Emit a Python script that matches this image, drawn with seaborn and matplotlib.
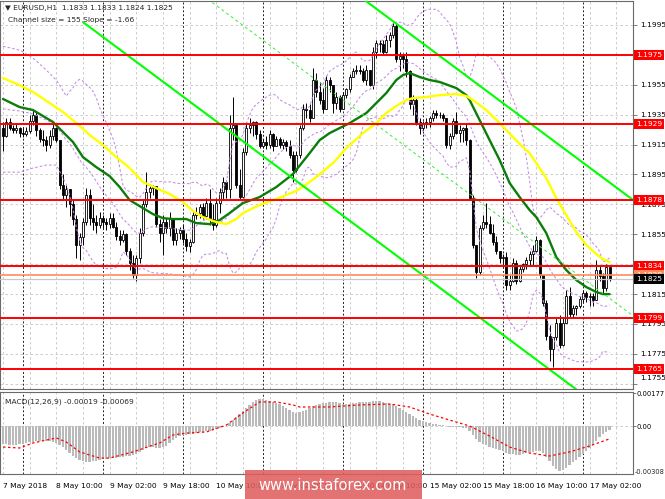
import numpy as np
import pandas as pd
import matplotlib
matplotlib.use("Agg")
import matplotlib.pyplot as plt
from matplotlib.patches import Rectangle
import matplotlib.transforms as mtransforms
import seaborn as sns

sns.set_style("white")
plt.rcParams['font.family'] = ['DejaVu Sans']

# ---------------- data (EURUSD H1) ----------------
first_open = 1.1926
close = [1.1921,1.1930,1.1926,1.1925,1.1926,1.1923,1.1922,1.1924,1.1931,1.1935,
         1.1925,1.1919,1.1918,1.1915,1.1921,1.1926,1.1918,1.1888,1.1881,1.1885,
         1.1875,1.1865,1.1848,1.1853,1.1863,1.1881,1.1866,1.1863,1.1861,1.1866,
         1.1863,1.1862,1.1866,1.1860,1.1854,1.1851,1.1855,1.1844,1.1836,1.1828,
         1.1839,1.1856,1.1875,1.1883,1.1886,1.1887,1.1862,1.1856,1.1863,1.1859,
         1.1866,1.1851,1.1856,1.1858,1.1852,1.1847,1.1850,1.1868,1.1869,1.1873,
         1.1867,1.1876,1.1865,1.1861,1.1876,1.1883,1.1890,1.1885,1.1926,1.1928,
         1.1888,1.1880,1.1910,1.1926,1.1928,1.1930,1.1922,1.1914,1.1917,1.1915,
         1.1922,1.1914,1.1919,1.1915,1.1917,1.1914,1.1908,1.1898,1.1908,1.1926,
         1.1939,1.1938,1.1933,1.1958,1.1950,1.1945,1.1939,1.1958,1.1955,1.1943,
         1.1947,1.1939,1.1948,1.1952,1.1960,1.1964,1.1965,1.1964,1.1958,1.1965,
         1.1955,1.1977,1.1983,1.1982,1.1977,1.1985,1.1988,1.1994,1.1972,1.1974,
         1.1972,1.1964,1.1942,1.1945,1.1930,1.1926,1.1929,1.1930,1.1933,1.1936,
         1.1935,1.1935,1.1933,1.1915,1.1921,1.1931,1.1923,1.1925,1.1926,1.1918,
         1.1879,1.1848,1.1830,1.1859,1.1863,1.1862,1.1856,1.1850,1.1844,1.1839,
         1.1840,1.1821,1.1824,1.1836,1.1824,1.1832,1.1835,1.1838,1.1842,1.1844,
         1.1851,1.1828,1.1809,1.1787,1.1778,1.1786,1.1796,1.1781,1.1796,1.1814,
         1.1802,1.1806,1.1807,1.1812,1.1816,1.1813,1.1814,1.1811,1.1831,1.1827,
         1.1819,1.1833,1.1825]
high = [1.1930,1.1933,1.1933,1.1928,1.1929,1.1927,1.1926,1.1927,1.1935,1.1938,
        1.1937,1.1926,1.1925,1.1921,1.1925,1.1929,1.1927,1.1918,1.1895,1.1888,
        1.1883,1.1878,1.1868,1.1856,1.1866,1.1886,1.1885,1.1875,1.1868,1.1870,
        1.1868,1.1866,1.1869,1.1869,1.1863,1.1858,1.1858,1.1856,1.1846,1.1841,
        1.1841,1.1859,1.1878,1.1897,1.1887,1.1888,1.1887,1.1865,1.1868,1.1866,
        1.1870,1.1866,1.1859,1.1860,1.1861,1.1856,1.1852,1.1871,1.1873,1.1875,
        1.1876,1.1879,1.1885,1.1875,1.1879,1.1886,1.1893,1.1891,1.1935,1.1947,
        1.1928,1.1899,1.1913,1.1930,1.1933,1.1931,1.1931,1.1925,1.1919,1.1921,
        1.1925,1.1923,1.1921,1.1920,1.1919,1.1918,1.1918,1.1911,1.1911,1.1928,
        1.1942,1.1943,1.1942,1.1966,1.1963,1.1957,1.1953,1.1961,1.1960,1.1955,
        1.1950,1.1948,1.1950,1.1953,1.1962,1.1966,1.1968,1.1968,1.1966,1.1968,
        1.1965,1.1980,1.1985,1.1985,1.1985,1.1988,1.1990,1.1996,1.1996,1.1977,
        1.1976,1.1977,1.1965,1.1948,1.1946,1.1933,1.1931,1.1933,1.1934,1.1938,
        1.1938,1.1937,1.1936,1.1933,1.1923,1.1933,1.1937,1.1928,1.1927,1.1929,
        1.1919,1.1881,1.1848,1.1861,1.1868,1.1876,1.1867,1.1862,1.1854,1.1844,
        1.1842,1.1843,1.1828,1.1839,1.1838,1.1834,1.1836,1.1840,1.1844,1.1848,
        1.1854,1.1852,1.1828,1.1811,1.1794,1.1786,1.1799,1.1801,1.1799,1.1818,
        1.1820,1.1808,1.1808,1.1814,1.1818,1.1817,1.1816,1.1816,1.1838,1.1834,
        1.1829,1.1835,1.1833]
low = [1.1911,1.1920,1.1925,1.1923,1.1923,1.1920,1.1920,1.1921,1.1923,1.1928,
       1.1921,1.1917,1.1914,1.1911,1.1913,1.1918,1.1917,1.1885,1.1878,1.1873,
       1.1867,1.1861,1.1839,1.1838,1.1848,1.1861,1.1861,1.1858,1.1856,1.1859,
       1.1859,1.1858,1.1859,1.1859,1.1851,1.1848,1.1850,1.1841,1.1831,1.1826,
       1.1824,1.1836,1.1854,1.1873,1.1879,1.1881,1.1860,1.1850,1.1841,1.1856,
       1.1854,1.1848,1.1848,1.1852,1.1849,1.1844,1.1843,1.1849,1.1865,1.1866,
       1.1865,1.1865,1.1861,1.1858,1.1860,1.1869,1.1878,1.1879,1.1879,1.1918,
       1.1886,1.1878,1.1879,1.1908,1.1923,1.1921,1.1919,1.1913,1.1913,1.1912,
       1.1913,1.1911,1.1914,1.1913,1.1912,1.1911,1.1906,1.1890,1.1897,1.1906,
       1.1925,1.1933,1.1930,1.1933,1.1947,1.1942,1.1936,1.1939,1.1950,1.1936,
       1.1939,1.1937,1.1939,1.1946,1.1950,1.1960,1.1962,1.1962,1.1957,1.1955,
       1.1954,1.1952,1.1973,1.1977,1.1975,1.1976,1.1980,1.1986,1.1970,1.1964,
       1.1966,1.1960,1.1939,1.1935,1.1928,1.1922,1.1923,1.1926,1.1927,1.1931,
       1.1933,1.1933,1.1931,1.1913,1.1912,1.1919,1.1922,1.1917,1.1917,1.1915,
       1.1878,1.1846,1.1826,1.1828,1.1858,1.1859,1.1855,1.1848,1.1842,1.1836,
       1.1836,1.1818,1.1818,1.1823,1.1822,1.1823,1.1830,1.1832,1.1834,1.1834,
       1.1843,1.1826,1.1807,1.1784,1.1770,1.1766,1.1784,1.1779,1.1780,1.1796,
       1.1800,1.1799,1.1801,1.1806,1.1810,1.1810,1.1807,1.1807,1.1811,1.1824,
       1.1816,1.1817,1.1824]

# moving averages (read at sample bars)
green_idx = [0,5,9,15,18,21,24,28,32,35,38,42,45,48,51,55,58,62,65,68,72,77,82,87,92,95,
             98,104,109,112,115,118,120,122,125,128,131,136,139,140,143,146,149,152,155,
             158,160,163,166,169,172,175,178,180,182]
green_val = [1.19455,1.19401,1.19381,1.19301,1.19234,1.19167,1.19066,1.18999,1.18939,1.18866,
             1.18779,1.18725,1.18685,1.18658,1.18652,1.18652,1.18625,1.18618,1.18645,1.18692,
             1.18759,1.18799,1.18866,1.18953,1.19093,1.19180,1.19227,1.19294,1.19361,1.19428,
             1.19495,1.19582,1.19615,1.19629,1.19602,1.19582,1.19569,1.19528,1.19481,1.19448,
             1.19314,1.19180,1.19047,1.18893,1.18799,1.18712,1.18665,1.18558,1.18397,1.18311,
             1.18244,1.18197,1.18164,1.18150,1.18150]
yellow_idx = [0,5,9,14,18,22,26,30,34,38,42,46,50,54,57,60,64,67,70,72,77,82,88,92,94,99,
              103,108,112,115,118,121,123,127,131,136,139,141,145,149,153,156,158,163,166,
              169,172,175,178,180,182]
yellow_val = [1.19595,1.19548,1.19502,1.19428,1.19368,1.19294,1.19214,1.19147,1.19066,1.18993,
              1.18900,1.18859,1.18819,1.18766,1.18705,1.18665,1.18632,1.18618,1.18652,1.18692,
              1.18746,1.18786,1.18840,1.18900,1.18933,1.19026,1.19126,1.19227,1.19294,1.19361,
              1.19408,1.19448,1.19461,1.19468,1.19481,1.19488,1.19475,1.19448,1.19381,1.19294,
              1.19200,1.19133,1.19093,1.18926,1.18792,1.18679,1.18565,1.18478,1.18418,1.18384,
              1.18364]

# Bollinger bands (20, 2): values read for the first bars (before the window has 20 bars)
bb_period = 20
bb_dev = 2
bb_early_idx = [0, 5, 9, 13, 16]
bb_early_upper = [1.19808, 1.19782, 1.19729, 1.19648, 1.19582]
bb_early_mid = [1.19388, 1.19375, 1.19355, 1.19314, 1.19274]
bb_early_lower = [1.18966, 1.18966, 1.18993, 1.19013, 1.19013]

levels_red = [1.1975, 1.1929, 1.1878, 1.1834, 1.1799, 1.1765]
level_orange = 1.1828
level_bid = 1.1825

channel_size = 0.0155          # "Channel size = 155"
channel_slope = -0.000166      # "Slope = -1.66" pips per bar
channel_anchor_idx = 125.1
channel_anchor_price = 1.18291
channel_start_idx = 24

macd_hist_e5 = [-97,-97,-102,-102,-102,-97,-97,-91,-86,-86,
                -80,-80,-80,-80,-80,-86,-91,-102,-113,-129,
                -145,-160,-172,-180,-188,-193,-193,-190,-186,-182,
                -177,-177,-172,-172,-172,-166,-166,-161,-161,-156,
                -150,-139,-129,-118,-113,-113,-118,-118,-113,-107,
                -91,-75,-64,-54,-48,-48,-43,-43,-38,-32,
                -32,-27,-27,-21,-16,-11,-5,0,16,32,
                48,64,80,97,113,129,139,145,145,139,
                134,129,123,118,107,97,86,75,70,75,
                80,86,97,107,113,118,123,123,129,129,
                129,123,118,118,118,123,123,129,129,129,
                129,134,134,134,129,123,118,118,107,97,
                86,75,64,54,43,32,27,21,16,11,
                11,5,5,0,-5,-5,-5,-5,-11,-11,
                -27,-48,-70,-86,-97,-102,-113,-118,-123,-129,
                -134,-145,-150,-150,-156,-156,-150,-145,-139,-139,
                -134,-134,-145,-166,-190,-215,-230,-240,-235,-225,
                -210,-195,-180,-165,-150,-135,-120,-100,-80,-60,
                -45,-30,-19]
signal_idx = [0,5,9,16,19,23,29,32,39,47,51,55,61,67,72,77,82,87,89,98,107,116,122,128,
              134,140,146,152,158,164,170,176,182]
signal_e5 = [-113,-118,-91,-64,-86,-139,-172,-172,-139,-91,-48,-38,-32,5,70,129,129,113,102,
             102,113,118,102,64,32,0,-54,-113,-145,-161,-139,-107,-69]

price_ticks = [1.1755,1.1775,1.1795,1.1815,1.1855,1.1875,1.1895,1.1915,1.1935,
               1.1955,1.1995]
time_label_idx = [0,16,32,48,64,80,96,112,128,144,160,176]
time_labels = ["7 May 2018","8 May 10:00","9 May 02:00","9 May 18:00","10 May 10:00",
               "11 May 02:00","11 May 18:00","14 May 10:00","15 May 02:00","15 May 18:00",
               "16 May 10:00","17 May 02:00"]

# ---------------- figure ----------------
W, H = 665, 499
fig = plt.figure(figsize=(W/100, H/100), dpi=100)
fig.patch.set_facecolor("white")

def rect(x0, y0, x1, y1):
    return [x0/W, 1 - y1/H, (x1-x0)/W, (y1-y0)/H]

PX_PER_BAR = 3.333
X0 = 3.0
ax = fig.add_axes(rect(0, 1, 633, 389))
axm = fig.add_axes(rect(0, 392, 633, 474), sharex=ax)
xlim = ((0 - X0)/PX_PER_BAR, (633 - X0)/PX_PER_BAR)

FS = 5.4
GRID = dict(color="#c4c4c4", lw=0.6, ls=(0, (3, 3)), zorder=0.5)
SEP = dict(color="#202020", lw=0.7, ls=(0, (2, 2)), zorder=0.6)

n = len(close)
idx = np.arange(n)
c = np.array(close); h = np.array(high); l = np.array(low)
o = np.r_[first_open, c[:-1]]
h = np.maximum(h, np.maximum(o, c)); l = np.minimum(l, np.minimum(o, c))

for a in (ax, axm):
    a.set_facecolor("white")
    for k in range(0, 200, 8):
        a.axvline(k, **GRID)
    for k in range(6, 200, 24):
        a.axvline(k, **SEP)
    for s in a.spines.values():
        s.set_color("#6a6a6a"); s.set_linewidth(0.8)

for p in price_ticks + [1.1835, 1.1975]:
    ax.axhline(p, **GRID)

# candles
ax.vlines(idx, l, h, colors="black", lw=0.7, zorder=2)
bull = c >= o
ax.bar(idx[bull], (c - o)[bull], bottom=o[bull], width=0.62, color="white",
       edgecolor="black", lw=0.6, zorder=2.5)
ax.bar(idx[~bull], (c - o)[~bull], bottom=o[~bull], width=0.62, color="black",
       edgecolor="black", lw=0.6, zorder=2.5)

# Bollinger bands
cs = pd.Series(c)
mid = cs.rolling(bb_period).mean()
sd = cs.rolling(bb_period).std(ddof=0)
late = idx >= bb_period - 1
BB = dict(color="#c58be6", lw=0.75, ls=(0, (2.5, 2)), zorder=2.8)
for early, line in ((bb_early_upper, mid + bb_dev*sd), (bb_early_mid, mid),
                    (bb_early_lower, mid - bb_dev*sd)):
    xs_bb = list(bb_early_idx) + list(idx[late])
    ys_bb = list(early) + list(line[late])
    ax.plot(xs_bb, ys_bb, **BB)

# moving averages
sns.lineplot(x=green_idx, y=green_val, ax=ax, color="#0b7d0b", lw=1.7, zorder=3,
             estimator=None, sort=False)
sns.lineplot(x=yellow_idx, y=yellow_val, ax=ax, color="#ffff00", lw=1.7, zorder=3,
             estimator=None, sort=False)

# channel
xs = np.array([channel_start_idx, 220.0])
lower = channel_anchor_price + channel_slope*(xs - channel_anchor_idx)
ax.plot(xs, lower, color="#00ff00", lw=1.5, zorder=4)
ax.plot(xs, lower + channel_size, color="#00ff00", lw=1.5, zorder=4)
ax.plot(xs, lower + channel_size/2, color="#33ee33", lw=0.7, ls=(0, (3, 3)), zorder=4)

# horizontal levels
for lv in levels_red:
    ax.axhline(lv, color="#ff0000", lw=1.4, zorder=4.5)
ax.axhline(level_orange, color="#ff8c5a", lw=1.2, zorder=4.4)
ax.axhline(level_bid, color="#c8c8c8", lw=0.9, zorder=4.3)

ax.set_xlim(*xlim)
ax.set_ylim(1.175152, 1.201105)
ax.yaxis.tick_right()
ax.set_yticks(price_ticks)
ax.set_yticklabels([f"{p:.4f}" for p in price_ticks], fontsize=FS)
ax.tick_params(axis="y", length=3, width=0.6, pad=2, colors="#6a6a6a", labelcolor="black")
ax.tick_params(axis="x", length=0, labelbottom=False)
ax.set_xlabel(""); ax.set_ylabel("")
# the lowest price label sits a little above its tick, as in the terminal
lab0 = ax.get_yticklabels()[0]
lab0.set_transform(lab0.get_transform() + mtransforms.ScaledTranslation(0, 6/100, fig.dpi_scale_trans))

def box(a, val, text, fc, tc="white", z=10):
    a.annotate(text, xy=(1.0, val), xycoords=("axes fraction", "data"),
               xytext=(2.2, 0), textcoords="offset points", ha="left", va="center",
               fontsize=FS, color=tc, annotation_clip=False, zorder=z,
               bbox=dict(boxstyle="square,pad=0.25", fc=fc, ec="none"))

for lv in levels_red:
    box(ax, lv, f"{lv:.4f}", "#ff0000")
box(ax, level_orange, f"{level_orange:.4f}", "#ff8c5a", z=11)
box(ax, level_bid, f"{level_bid:.4f}", "black", z=12)

# ---------------- MACD ----------------
hist = np.array(macd_hist_e5) * 1e-5
sig = np.array(signal_e5) * 1e-5
axm.axhline(0, **GRID)
axm.bar(idx, hist, width=0.7, color="#bababa", lw=0, zorder=2)
sns.lineplot(x=signal_idx, y=sig, ax=axm, color="#ff0000", lw=0.9, zorder=3,
             estimator=None, sort=False, linestyle=(0, (2, 2)))
m_top, m_bot = 0.001824, -0.002575
axm.set_ylim(m_bot, m_top)
axm.yaxis.tick_right()
axm.set_yticks([0.00177, 0.0])
axm.set_yticklabels(["0.00177", "0.00"], fontsize=4.9)
axm.tick_params(axis="y", length=2, width=0.6, pad=0.8, colors="#6a6a6a", labelcolor="black")
axm.set_xticks(time_label_idx)
axm.set_xticklabels(time_labels, fontsize=FS, ha="left")
axm.tick_params(axis="x", length=2.5, width=0.6, pad=4, colors="#6a6a6a", labelcolor="black")
axm.set_xlim(*xlim)
axm.set_xlabel(""); axm.set_ylabel("")
fig.text(664.5/W, 1 - 472/H, "-0.00308", fontsize=4.8, ha="right", va="center")

# ---------------- texts ----------------
fig.text(5/W, 1 - 8/H, "\u25bc EURUSD,H1  1.1833 1.1833 1.1824 1.1825", fontsize=FS,
         va="center", ha="left", zorder=20)
fig.text(8/W, 1 - 20/H, "Channel size = 155 Slope = -1.66", fontsize=FS,
         va="center", ha="left", zorder=20)
fig.text(5/W, 1 - 402/H, "MACD(12,26,9) -0.00019 -0.00069", fontsize=FS,
         va="center", ha="left", zorder=20)

# watermark
fig.patches.append(Rectangle((245/W, 0), (422-245)/W, (499-470)/H, transform=fig.transFigure,
                             facecolor="#e05e5e", edgecolor="none", alpha=0.88, zorder=30))
fig.text(333/W, 1 - 485/H, "www.instaforex.com", fontsize=10.5, color="white",
         ha="center", va="center", zorder=31)

fig.savefig("out.png", dpi=100, facecolor="white")
